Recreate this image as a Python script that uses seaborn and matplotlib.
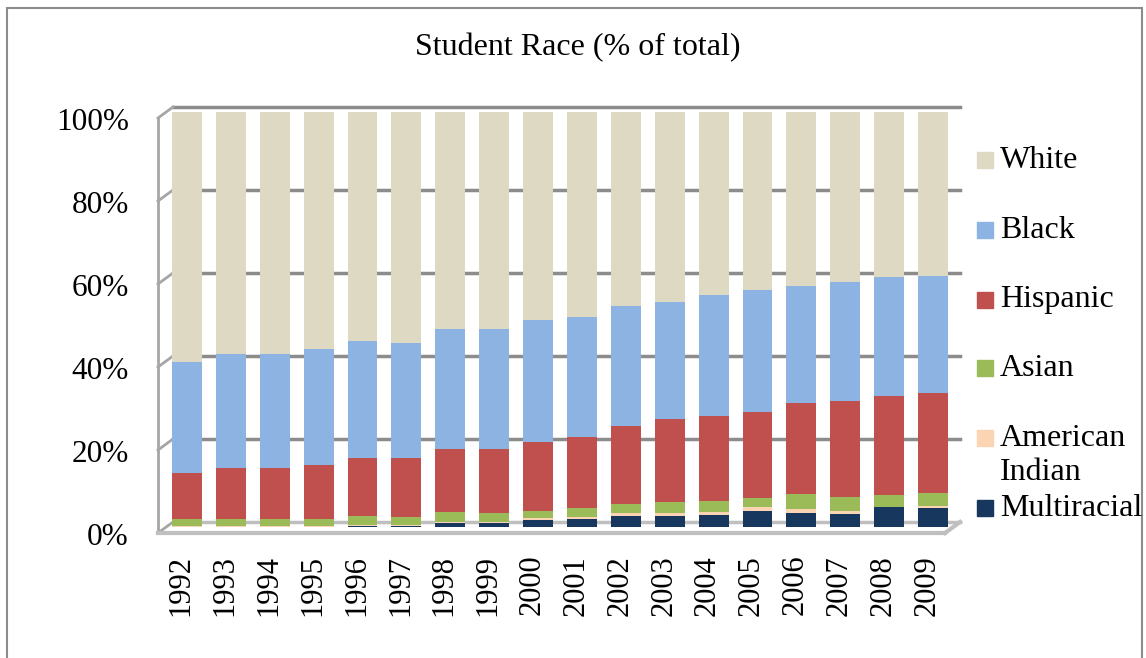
import numpy as np
import pandas as pd
import seaborn as sns
import matplotlib.pyplot as plt
from matplotlib.patches import Rectangle
from matplotlib.lines import Line2D
from matplotlib.transforms import ScaledTranslation

# student race shares (% of total)
years = [str(y) for y in range(1992, 2010)]
multiracial = [0.0, 0.0, 0.0, 0.0, 0.2, 0.2, 1.0, 0.9, 1.8, 2.0, 2.6, 2.6, 2.9, 3.8, 3.4, 3.2, 4.8, 4.6]
american_indian = [0.3, 0.3, 0.3, 0.3, 0.3, 0.3, 0.3, 0.3, 0.3, 0.3, 0.7, 0.8, 0.8, 0.9, 1.0, 0.7, 0.1, 0.4]
asian = [1.6, 1.6, 1.6, 1.7, 2.2, 1.9, 2.3, 2.1, 1.8, 2.3, 2.3, 2.7, 2.6, 2.2, 3.6, 3.4, 2.9, 3.2]
hispanic = [11.2, 12.4, 12.2, 13.0, 14.0, 14.3, 15.3, 15.4, 16.5, 17.0, 18.7, 19.9, 20.4, 20.9, 21.9, 23.0, 23.8, 24.1]
black = [26.7, 27.4, 27.6, 28.0, 28.0, 27.7, 28.9, 29.1, 29.4, 29.1, 28.9, 28.1, 29.1, 29.2, 28.1, 28.7, 28.6, 28.1]
white = [60.2, 58.3, 58.3, 57.0, 55.3, 55.6, 52.2, 52.2, 50.2, 49.3, 46.8, 45.9, 44.2, 43.0, 42.0, 41.0, 39.8, 39.6]

groups = ["Multiracial", "American\nIndian", "Asian", "Hispanic", "Black", "White"]
colors = ["#17375E", "#FBD4B4", "#9BBB59", "#C0504D", "#8DB3E2", "#DDD9C3"]

df = pd.DataFrame({"Multiracial": multiracial, "American\nIndian": american_indian,
                   "Asian": asian, "Hispanic": hispanic, "Black": black, "White": white},
                  index=years)
share = df.div(df.sum(axis=1), axis=0)
cum = share.cumsum(axis=1)

plt.rcParams['font.family'] = ['Liberation Serif', 'DejaVu Serif']

W, H = 1146, 658
fig = plt.figure(figsize=(W / 100, H / 100), dpi=100)


def px(x, y):
    # pixel position (from top-left) -> figure fraction
    return x / W, 1 - y / H


def pline(x0, y0, x1, y1, **kw):
    a, b = px(x0, y0)
    c, d = px(x1, y1)
    fig.add_artist(Line2D([a, c], [b, d], transform=fig.transFigure, zorder=1, **kw))


# pseudo 3D walls: back gridlines, left wall, floor
grid_c = "#8c8c8c"
for k in range(6):
    yb = 107 + k * 83
    pline(173, yb, 960, yb, color=grid_c if k < 5 else "#bfbfbf", lw=2.5)
    pline(158, yb + 11, 173, yb, color="#a6a6a6", lw=2)
pline(158, 118, 158, 533, color="#a6a6a6", lw=2)
pline(158, 533, 945, 533, color="#bfbfbf", lw=3)
pline(945, 533, 960, 522, color="#bfbfbf", lw=3)

ax = fig.add_axes([165 / W, 1 - 527 / H, (955 - 165) / W, (527 - 112) / H])
ax.set_zorder(3)
ax.patch.set_alpha(0)

# draw cumulative bars from the top down so each layer covers the one above
for i in range(len(groups) - 1, -1, -1):
    g = groups[i]
    sns.barplot(x=years, y=cum[g].values, color=colors[i], saturation=1,
                width=0.68, ax=ax, zorder=3 + (len(groups) - i))

ax.set_ylim(0, 1)
ax.set_xlim(-0.5, len(years) - 0.5)
ax.set_yticks(np.arange(0, 1.01, 0.2))
ax.set_yticklabels([f"{int(round(v * 100))}%" for v in np.arange(0, 1.01, 0.2)])
ax.tick_params(axis='y', length=0, pad=26, labelsize=22.5)
ax.tick_params(axis='x', length=0, pad=20, labelsize=22, labelrotation=90)
ax.set_xlabel("")
ax.set_ylabel("")
for s in ax.spines.values():
    s.set_visible(False)

for lab in ax.get_yticklabels():
    lab.set_transform(lab.get_transform() + ScaledTranslation(0, -0.07, fig.dpi_scale_trans))
for lab in ax.get_xticklabels():
    lab.set_transform(lab.get_transform() + ScaledTranslation(-0.06, 0, fig.dpi_scale_trans))

fig.text(*px(578, 48), "Student Race (% of total)", ha="center", va="center", fontsize=23)

# legend, listed top-down as in the source
leg_y = [160, 230, 300, 368, 438, 508]
for j, i in enumerate(range(len(groups) - 1, -1, -1)):
    xs, yc = px(977, leg_y[j])
    fig.patches.append(Rectangle((xs, yc - 8 / H), 16 / W, 16 / H,
                                 transform=fig.transFigure, color=colors[i]))
    lines = groups[i].split("\n")
    for n, part in enumerate(lines):
        fig.text(1000 / W, yc - n * 34 / H, part, ha="left", va="center", fontsize=23)

# outer chart border
fig.patches.append(Rectangle((7 / W, -0.01), 1135 / W, 1 - 8 / H + 0.01,
                             transform=fig.transFigure, fill=False, ec="#8c8c8c", lw=1.5))

fig.savefig("out.png", dpi=100)
